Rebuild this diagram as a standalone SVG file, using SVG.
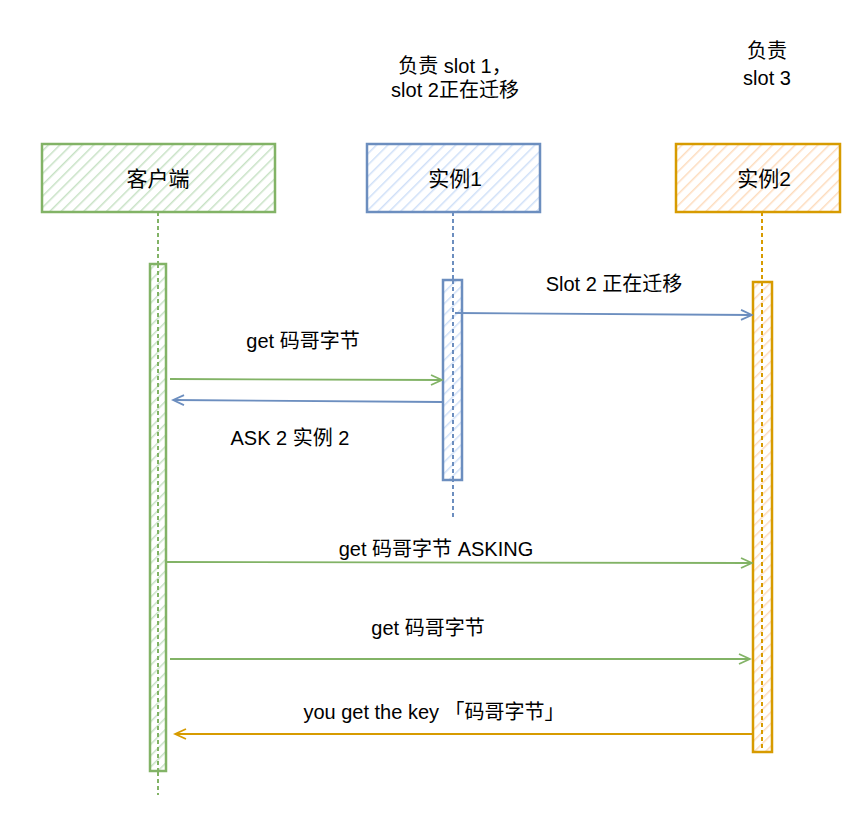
<svg xmlns="http://www.w3.org/2000/svg" width="857" height="820" viewBox="0 0 857 820">
<style>
text{font-family:"Liberation Sans","Noto Sans CJK SC",sans-serif;font-size:20px;fill:#000;text-anchor:middle;dominant-baseline:central}
.lbl{font-size:21px}
.g{stroke:#82b366}.b{stroke:#6c8ebf}.o{stroke:#d79b00}
.box{stroke-width:2.5}
.life{fill:none;stroke-width:2;stroke-dasharray:4 3}
.msg{fill:none;stroke-width:1.8}
</style>
<defs>
<pattern id="hg" width="8" height="8" patternUnits="userSpaceOnUse" patternTransform="rotate(45)"><rect width="8" height="8" fill="#fff"/><line x1="0" y1="0" x2="0" y2="8" stroke="#c8e2c5" stroke-width="3"/></pattern>
<pattern id="hb" width="8" height="8" patternUnits="userSpaceOnUse" patternTransform="rotate(45)"><rect width="8" height="8" fill="#fff"/><line x1="0" y1="0" x2="0" y2="8" stroke="#cfe0f8" stroke-width="3"/></pattern>
<pattern id="ho" width="8" height="8" patternUnits="userSpaceOnUse" patternTransform="rotate(45)"><rect width="8" height="8" fill="#fff"/><line x1="0" y1="0" x2="0" y2="8" stroke="#fddcbd" stroke-width="3"/></pattern>
<marker id="ag" markerWidth="14" markerHeight="12" refX="12" refY="6" orient="auto" markerUnits="userSpaceOnUse"><path d="M1,1 L12,6 L1,11 M4,6 L12,6" fill="none" stroke="#82b366" stroke-width="1.8"/></marker>
<marker id="ab" markerWidth="14" markerHeight="12" refX="12" refY="6" orient="auto" markerUnits="userSpaceOnUse"><path d="M1,1 L12,6 L1,11 M4,6 L12,6" fill="none" stroke="#6c8ebf" stroke-width="1.8"/></marker>
<marker id="ao" markerWidth="14" markerHeight="12" refX="12" refY="6" orient="auto" markerUnits="userSpaceOnUse"><path d="M1,1 L12,6 L1,11 M4,6 L12,6" fill="none" stroke="#d79b00" stroke-width="1.8"/></marker>
</defs>
<g id="client">
<rect class="box g" x="42" y="144" width="233" height="68" fill="url(#hg)"/>
<text class="lbl" x="158" y="178">客户端</text>
<line class="life g" x1="158" y1="212" x2="158" y2="795"/>
<rect class="box g" x="150" y="264" width="16" height="507" fill="url(#hg)"/>
<line class="life g" x1="158" y1="264" x2="158" y2="771"/>
</g>
<g id="inst1">
<rect class="box b" x="367" y="144" width="173" height="68" fill="url(#hb)"/>
<text class="lbl" x="455" y="178">实例1</text>
<line class="life b" x1="453" y1="212" x2="453" y2="518"/>
<rect class="box b" x="443" y="280" width="19" height="200" fill="url(#hb)"/>
<line class="life b" x1="453" y1="280" x2="453" y2="480"/>
</g>
<g id="inst2">
<rect class="box o" x="676" y="144" width="164" height="68" fill="url(#ho)"/>
<text class="lbl" x="764" y="178">实例2</text>
<line class="life o" x1="762" y1="212" x2="762" y2="282"/>
<rect class="box o" x="753" y="282" width="19" height="470" fill="url(#ho)"/>
<line class="life o" x1="762" y1="282" x2="762" y2="752"/>
</g>
<g id="notes">
<text x="455" y="66">负责 slot 1，</text>
<text x="455" y="90">slot 2正在迁移</text>
<text x="767" y="51">负责</text>
<text x="767" y="78">slot 3</text>
</g>
<g id="connectors">
<path class="msg b" d="M455,313 L752,315" marker-end="url(#ab)"/>
<text x="614" y="284">Slot 2 正在迁移</text>
<path class="msg g" d="M170,379 L442,380" marker-end="url(#ag)"/>
<text x="303" y="341">get 码哥字节</text>
<path class="msg b" d="M442,402 L173,400" marker-end="url(#ab)"/>
<text x="290" y="438">ASK 2 实例 2</text>
<path class="msg g" d="M166,562 L752,563" marker-end="url(#ag)"/>
<text x="436" y="549">get 码哥字节 ASKING</text>
<path class="msg g" d="M170,659 L750,659" marker-end="url(#ag)"/>
<text x="428" y="628">get 码哥字节</text>
<path class="msg o" d="M752,734 L175,734" marker-end="url(#ao)"/>
<text x="434" y="712">you get the key 「码哥字节」</text>
</g>
</svg>
